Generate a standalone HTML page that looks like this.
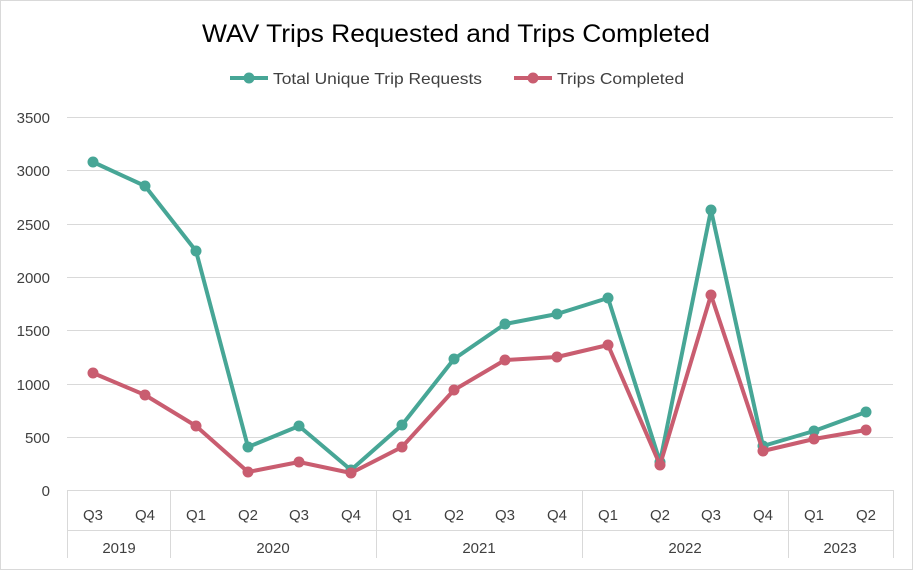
<!DOCTYPE html>
<html><head><meta charset="utf-8"><style>
html,body{margin:0;padding:0;background:#fff;}
svg{display:block;font-family:"Liberation Sans",sans-serif;}
</style></head><body>
<svg width="913" height="570" viewBox="0 0 913 570" xmlns="http://www.w3.org/2000/svg">
<rect x="0.5" y="0.5" width="912" height="569" fill="#fff" stroke="#d9d9d9"/>
<text x="202" y="42" font-size="25" fill="#000" textLength="508" lengthAdjust="spacingAndGlyphs">WAV Trips Requested and Trips Completed</text>
<g font-size="16" fill="#404040">
<line x1="230" y1="78" x2="268" y2="78" stroke="#47A696" stroke-width="4"/><circle cx="249" cy="78" r="5.5" fill="#47A696"/>
<text x="273" y="84" textLength="209" lengthAdjust="spacingAndGlyphs">Total Unique Trip Requests</text>
<line x1="514" y1="78" x2="552" y2="78" stroke="#C95D70" stroke-width="4"/><circle cx="533" cy="78" r="5.5" fill="#C95D70"/>
<text x="557" y="84" textLength="127" lengthAdjust="spacingAndGlyphs">Trips Completed</text>
</g>
<g stroke="#d9d9d9" stroke-width="1">
<line x1="67" y1="117.5" x2="893" y2="117.5"/><line x1="67" y1="170.5" x2="893" y2="170.5"/>
<line x1="67" y1="224.5" x2="893" y2="224.5"/><line x1="67" y1="277.5" x2="893" y2="277.5"/>
<line x1="67" y1="330.5" x2="893" y2="330.5"/><line x1="67" y1="384.5" x2="893" y2="384.5"/>
<line x1="67" y1="437.5" x2="893" y2="437.5"/><line x1="67" y1="490.5" x2="893" y2="490.5"/>
<line x1="67.5" y1="490" x2="67.5" y2="558"/><line x1="170.5" y1="490" x2="170.5" y2="558"/>
<line x1="376.5" y1="490" x2="376.5" y2="558"/><line x1="582.5" y1="490" x2="582.5" y2="558"/>
<line x1="788.5" y1="490" x2="788.5" y2="558"/><line x1="893.5" y1="490" x2="893.5" y2="558"/>
<line x1="67" y1="530.5" x2="893" y2="530.5"/>
</g>
<g font-size="15" fill="#404040" text-anchor="end">
<text x="50" y="123">3500</text><text x="50" y="176">3000</text><text x="50" y="230">2500</text>
<text x="50" y="283">2000</text><text x="50" y="336">1500</text><text x="50" y="390">1000</text>
<text x="50" y="443">500</text><text x="50" y="496">0</text>
</g>
<g font-size="15" fill="#404040" text-anchor="middle">
<text x="93" y="520">Q3</text><text x="145" y="520">Q4</text><text x="196" y="520">Q1</text><text x="248" y="520">Q2</text>
<text x="299" y="520">Q3</text><text x="351" y="520">Q4</text><text x="402" y="520">Q1</text><text x="454" y="520">Q2</text>
<text x="505" y="520">Q3</text><text x="557" y="520">Q4</text><text x="608" y="520">Q1</text><text x="660" y="520">Q2</text>
<text x="711" y="520">Q3</text><text x="763" y="520">Q4</text><text x="814" y="520">Q1</text><text x="866" y="520">Q2</text>
<text x="119" y="553">2019</text><text x="273" y="553">2020</text><text x="479" y="553">2021</text>
<text x="685" y="553">2022</text><text x="840" y="553">2023</text>
</g>
<polyline fill="none" stroke="#47A696" stroke-width="4" stroke-linejoin="round" points="93,162 145,186 196,251 248,447 299,426 351,470 402,425 454,359 505,324 557,314 608,298 660,462 711,210 763,446 814,431 866,412"/>
<g fill="#47A696">
<circle cx="93" cy="162" r="5.5"/><circle cx="145" cy="186" r="5.5"/><circle cx="196" cy="251" r="5.5"/><circle cx="248" cy="447" r="5.5"/><circle cx="299" cy="426" r="5.5"/><circle cx="351" cy="470" r="5.5"/><circle cx="402" cy="425" r="5.5"/><circle cx="454" cy="359" r="5.5"/><circle cx="505" cy="324" r="5.5"/><circle cx="557" cy="314" r="5.5"/><circle cx="608" cy="298" r="5.5"/><circle cx="660" cy="462" r="5.5"/><circle cx="711" cy="210" r="5.5"/><circle cx="763" cy="446" r="5.5"/><circle cx="814" cy="431" r="5.5"/><circle cx="866" cy="412" r="5.5"/>
</g>
<polyline fill="none" stroke="#C95D70" stroke-width="4" stroke-linejoin="round" points="93,373 145,395 196,426 248,472 299,462 351,473 402,447 454,390 505,360 557,357 608,345 660,465 711,295 763,451 814,439 866,430"/>
<g fill="#C95D70">
<circle cx="93" cy="373" r="5.5"/><circle cx="145" cy="395" r="5.5"/><circle cx="196" cy="426" r="5.5"/><circle cx="248" cy="472" r="5.5"/><circle cx="299" cy="462" r="5.5"/><circle cx="351" cy="473" r="5.5"/><circle cx="402" cy="447" r="5.5"/><circle cx="454" cy="390" r="5.5"/><circle cx="505" cy="360" r="5.5"/><circle cx="557" cy="357" r="5.5"/><circle cx="608" cy="345" r="5.5"/><circle cx="660" cy="465" r="5.5"/><circle cx="711" cy="295" r="5.5"/><circle cx="763" cy="451" r="5.5"/><circle cx="814" cy="439" r="5.5"/><circle cx="866" cy="430" r="5.5"/>
</g>
</svg>
</body></html>
